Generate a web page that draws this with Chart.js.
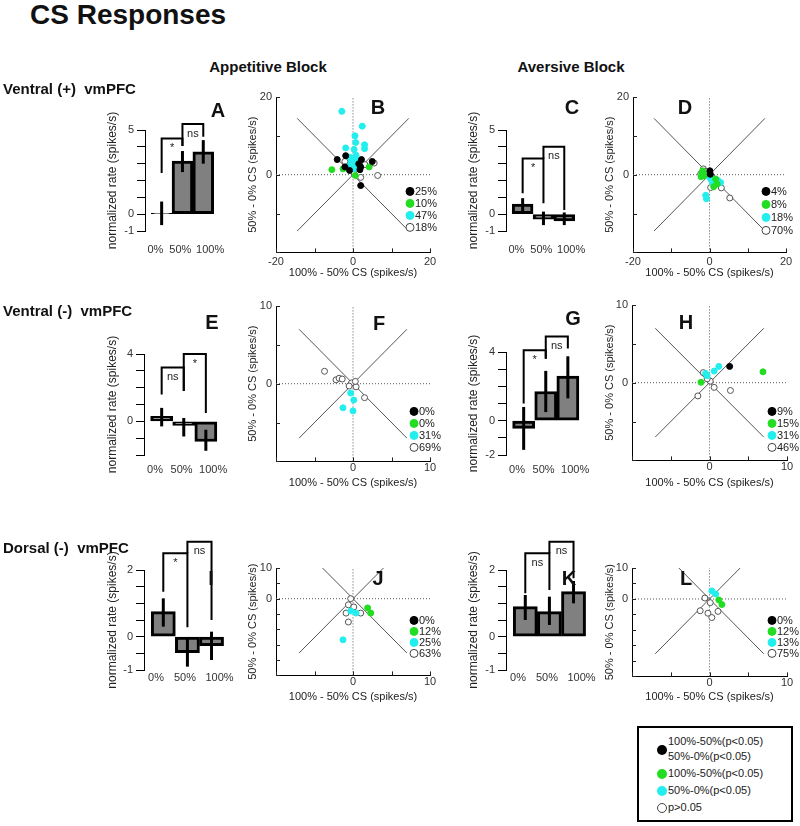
<!DOCTYPE html>
<html lang="en">
<head>
<meta charset="UTF-8">
<title>CS Responses</title>
<style>
  body { margin: 0; background: #fff; }
  #page { position: relative; width: 800px; height: 826px; overflow: hidden; font-family: Arial, "Liberation Sans", sans-serif; color: #111; }
  canvas { position: absolute; }
  .t { position: absolute; font-weight: bold; line-height: 1; white-space: pre; z-index: 2; }
  .c { transform: translateX(-50%); }
  .letter { font-size: 20px; }
  .key { position: absolute; left: 637px; top: 726px; width: 156px; height: 96px; box-sizing: border-box; border: 2px solid #000; }
  .kt { position: absolute; font-size: 11px; line-height: 1; white-space: pre; color: #222; }
  .dot { position: absolute; width: 10px; height: 10px; border-radius: 50%; box-sizing: border-box; }
</style>
</head>
<body>
<div id="page">
  <div class="t" style="left:30px;top:1px;font-size:28px">CS Responses</div>
  <div class="t c" style="left:268px;top:59px;font-size:15px">Appetitive Block</div>
  <div class="t c" style="left:571px;top:59px;font-size:15px">Aversive Block</div>
  <div class="t" style="left:3px;top:81px;font-size:15px">Ventral (+)  vmPFC</div>
  <div class="t" style="left:3px;top:303px;font-size:15px">Ventral (-)  vmPFC</div>
  <div class="t" style="left:3px;top:540px;font-size:15px">Dorsal (-)  vmPFC</div>

  <div class="t c letter" style="left:218px;top:100px">A</div>
  <div class="t c letter" style="left:378px;top:97px">B</div>
  <div class="t c letter" style="left:572px;top:97px">C</div>
  <div class="t c letter" style="left:685px;top:97px">D</div>
  <div class="t c letter" style="left:212px;top:312px">E</div>
  <div class="t c letter" style="left:379px;top:313px">F</div>
  <div class="t c letter" style="left:573px;top:308px">G</div>
  <div class="t c letter" style="left:686px;top:312px">H</div>
  <div class="t c letter" style="left:211px;top:568px">I</div>
  <div class="t c letter" style="left:378px;top:568px">J</div>
  <div class="t c letter" style="left:569px;top:568px">K</div>
  <div class="t c letter" style="left:686px;top:568px">L</div>

  <canvas id="cA"></canvas><canvas id="cB"></canvas><canvas id="cC"></canvas><canvas id="cD"></canvas>
  <canvas id="cE"></canvas><canvas id="cF"></canvas><canvas id="cG"></canvas><canvas id="cH"></canvas>
  <canvas id="cI"></canvas><canvas id="cJ"></canvas><canvas id="cK"></canvas><canvas id="cL"></canvas>

  <div class="key"></div>
  <div class="dot" style="left:657px;top:745px;background:#000"></div>
  <div class="kt" style="left:668px;top:736px">100%-50%(p&lt;0.05)</div>
  <div class="kt" style="left:668px;top:751px">50%-0%(p&lt;0.05)</div>
  <div class="dot" style="left:657px;top:769px;background:#22dd22"></div>
  <div class="kt" style="left:668px;top:768px">100%-50%(p&lt;0.05)</div>
  <div class="dot" style="left:657px;top:786px;background:#22eeee"></div>
  <div class="kt" style="left:668px;top:785px">50%-0%(p&lt;0.05)</div>
  <div class="dot" style="left:657px;top:803px;background:#fff;border:1px solid #444"></div>
  <div class="kt" style="left:668px;top:802px">p&gt;0.05</div>
</div>

<script src="https://cdn.jsdelivr.net/npm/chart.js"></script>
<script>
// ---------- data ----------
const conditions = ['0%', '50%', '100%'];

// bar panels: mean, error bar [low, high], brackets [from, to, top, leg from, leg to, label]
const meanA = [0.05, 3.15, 3.7];
const errA = [[-0.65, 0.75], [2.5, 3.75], [3.0, 4.4]];
const sigA = [[0, 1, 4.5, 2.45, 4.05, '*'], [1, 2, 5.35, 4.05, 4.6, 'ns']];

const meanC = [0.6, -0.3, -0.4];
const errC = [[0.05, 0.95], [-0.65, 0.15], [-0.65, 0.1]];
const sigC = [[0, 1, 3.3, 1.25, 0.65, '*'], [1, 2, 4.0, 3.3, 0.25, 'ns']];

const meanE = [0.3, -0.25, -1.2];
const errE = [[-0.3, 0.8], [-0.9, 0.2], [-1.75, -0.5]];
const sigE = [[0, 1, 3.2, 1.6, 1.8, 'ns'], [1, 2, 4.0, 1.8, 0.5, '*']];

const meanG = [-0.45, 1.7, 2.6];
const errG = [[-1.7, 0.8], [0.5, 2.9], [1.3, 3.75]];
const sigG = [[0, 1, 4.1, 1.0, 3.6, '*'], [1, 2, 4.9, 3.6, 4.2, 'ns']];

const meanI = [0.75, -0.48, -0.27];
const errI = [[0.3, 1.15], [-0.9, -0.05], [-0.7, 0.15]];
const sigI = [[0, 1, 2.5, 1.35, 0.28, '*'], [1, 2, 2.85, 2.5, 0.5, 'ns']];

const meanK = [0.9, 0.75, 1.35];
const errK = [[0.5, 1.25], [0.35, 1.2], [1.0, 1.67]];
const sigK = [[0, 1, 2.5, 1.3, 1.4, 'ns'], [1, 2, 2.85, 2.5, 1.75, 'ns']];

// bar y ticks / labels
const yTicks5 = [-1, 0, 1, 2, 3, 4, 5], yLab5 = [5, 0, -1];
const yTicks4 = [-2, -1, 0, 1, 2, 3, 4], yLabE = [4, 0], yLabG = [4, 0, -2];
const yTicks2 = [-1, -0.5, 0, 0.5, 1, 1.5, 2], yLab2 = [2, 0, -1];

// scatter ticks / labels
const sTicks20 = [-20, -10, 0, 10, 20], sXLab20 = [-20, 0, 20], sYLab20 = [20, 0];
const sTicks10 = [-10, -5, 0, 5, 10], sXLab10 = [0, 10], sYLab10 = [10, 0];
const sYTicks3 = [-25, -20, -15, -10, -5, 0, 5, 10];

// scatter points [x, y]: black, green, cyan, open
const blackB = [[-4.1, 3.9], [-1.9, 4.9], [2.2, 3.9], [5.0, 3.4], [-0.9, 1.1], [-2.1, 2.0], [2.0, 2.0], [1.8, 1.3], [2.0, -2.8], [1.5, 2.8]];
const greenB = [[-5.5, 1.3], [-2.6, 1.5], [4.2, 2.0], [0.6, -0.2]];
const cyanB = [[-2.9, 16.3], [2.4, 12.5], [0.5, 10], [0.7, 8.3], [3.0, 7.7], [3.0, 6.7], [-1.9, 6.9], [0.3, 6.5], [-0.3, 3.4], [-0.5, 3.5], [0.5, 4.0], [0, 2.5], [1.0, 2.0], [-1.0, 2.2], [0.3, 1.5], [1.5, 3.0], [-0.8, 4.5], [0.8, 5.0], [0.2, 3.0]];
const openB = [[-1.7, 3.6], [5.5, 3.0], [3.1, 2.6], [2.0, -0.7], [6.4, -0.2], [-2.1, 3.4], [0.3, 0.2]];
const pctB = ['25%', '10%', '47%', '18%'];

const blackD = [[0.1, 1.0], [0.2, 0.1]];
const greenD = [[-2.0, 0.5], [-1.5, -0.3], [-1.0, 0.2], [-2.2, -0.5], [1.6, -1.1], [2.0, -2.4], [1.1, -3.1], [-1.8, 1.0]];
const cyanD = [[-1.0, -5.3], [-0.8, -6.2], [0.3, -1.1], [2.9, -2.0], [-0.1, -0.5], [0.3, -0.7], [1.0, -1.5], [0.8, -2.2], [2.2, -1.5]];
const openD = [[-1.6, 1.5], [0.3, -3.3], [3.1, -3.4], [5.3, -6.0], [-0.5, 0.5], [0.5, -0.4], [-1.2, 0.9], [0.8, -0.8], [1.3, -1.4], [-0.3, -0.1], [0.1, 0.6], [-2.3, 0.2], [1.8, -1.9]];
const pctD = ['4%', '8%', '18%', '70%'];

const blackF = [], greenF = [];
const cyanF = [[-1.3, -3.1], [-0.3, -1.2], [0.1, -2.1], [0, -3.5]];
const openF = [[-3.7, 1.6], [-2.2, 0.5], [-1.8, 0.7], [-1.4, 0.6], [0.4, -0.4], [1.5, -1.8], [-0.2, 0.1], [0.3, 0.3], [-0.5, -0.3]];
const pctF = ['0%', '0%', '31%', '69%'];

const blackH = [[2.6, 2.1]];
const greenH = [[6.9, 1.4], [-1.1, 0.05]];
const cyanH = [[-0.3, 0.9], [0.6, 1.5], [1.2, 2.1], [-0.5, 1.2]];
const openH = [[-0.8, 1.3], [0.6, -0.6], [2.7, -1.0], [-1.5, -1.7], [0.1, 0.2], [-0.3, 0.5]];
const pctH = ['9%', '15%', '31%', '46%'];

const blackJ = [];
const greenJ = [[1.9, -3.0], [2.3, -4.7]];
const cyanJ = [[-0.3, -4.0], [0.4, -4.7], [-1.3, -13.4]];
const openJ = [[-0.3, 0], [-0.6, -2.0], [0.1, -2.7], [-0.9, -4.7], [1.0, -4.7], [-0.6, -7.6]];
const pctJ = ['0%', '12%', '25%', '63%'];

const blackL = [];
const greenL = [[1.6, -1.8], [1.2, -0.3]];
const cyanL = [[0.3, 2.6], [0.8, 1.6]];
const openL = [[-0.2, -4.6], [0.3, -6.0], [1.1, -4.0], [0.1, -1.2], [-0.6, 0.3], [-1.2, -3.8]];
const pctL = ['0%', '12%', '13%', '75%'];

// reference lines: diagonal, anti-diagonal
const diag20 = [[-14.5, -14.5], [14.5, 14.5]], anti20 = [[-14.5, 14.5], [14.5, -14.5]];
const diag10 = [[-7, -7], [7, 7]], anti10 = [[-7, 7], [7, -7]];
const diag3 = [[-7, -17.7], [7, 17.7]], anti3 = [[-7, 17.7], [7, -17.7]];

// ---------- drawing ----------
const FONT = 'Arial, "Liberation Sans", sans-serif';
Chart.defaults.font.family = FONT;
Chart.defaults.color = '#333';

const keyColors = [['#000', '#000'], ['#22dd22', '#22dd22'], ['#22eeee', '#22eeee'], ['#fff', '#444']];
// small sideways nudge of the bar category labels (in bar widths)
const labelNudge = [-0.3, -0.1, 0.33];

const decor = {
  id: 'decor',
  afterDatasetsDraw(chart, args, o) {
    const ctx = chart.ctx, xs = chart.scales.x, ys = chart.scales.y, area = chart.chartArea;
    ctx.save();
    ctx.strokeStyle = '#000';
    if (o.errors) {
      ctx.lineWidth = 3;
      o.errors.forEach(([lo, hi], i) => {
        const px = xs.getPixelForValue(i);
        ctx.beginPath();
        ctx.moveTo(px, ys.getPixelForValue(lo));
        ctx.lineTo(px, ys.getPixelForValue(hi));
        ctx.stroke();
      });
    }
    if (o.brackets) {
      ctx.lineWidth = 2;
      ctx.font = '11px ' + FONT;
      ctx.fillStyle = '#222';
      ctx.textAlign = 'center';
      ctx.textBaseline = 'top';
      o.brackets.forEach(([a, b, top, la, lb, txt]) => {
        const xa = xs.getPixelForValue(a), xb = xs.getPixelForValue(b), yt = ys.getPixelForValue(top);
        ctx.beginPath();
        ctx.moveTo(xa, ys.getPixelForValue(la));
        ctx.lineTo(xa, yt);
        ctx.lineTo(xb, yt);
        ctx.lineTo(xb, ys.getPixelForValue(lb));
        ctx.stroke();
        ctx.fillText(txt, (xa + xb) / 2, yt + 4);
      });
    }
    if (o.inTicks) {
      ctx.lineWidth = 1;
      ctx.strokeStyle = '#222';
      xs.ticks.forEach(t => {
        const px = Math.round(xs.getPixelForValue(t.value)) + 0.5;
        ctx.beginPath(); ctx.moveTo(px, area.bottom); ctx.lineTo(px, area.bottom - 4); ctx.stroke();
      });
      ys.ticks.forEach(t => {
        const py = Math.round(ys.getPixelForValue(t.value)) + 0.5;
        ctx.beginPath(); ctx.moveTo(area.left, py); ctx.lineTo(area.left + 4, py); ctx.stroke();
      });
    }
    if (o.key) {
      const k = o.key;
      ctx.font = '11px ' + FONT;
      ctx.textAlign = 'left';
      ctx.textBaseline = 'middle';
      k.labels.forEach((lab, i) => {
        const cy = area.bottom - k.bottom - (k.labels.length - 1 - i) * k.gap;
        const cx = area.right - k.right;
        ctx.beginPath();
        ctx.arc(cx, cy, 4, 0, Math.PI * 2);
        ctx.fillStyle = keyColors[i][0];
        ctx.fill();
        ctx.lineWidth = 1;
        ctx.strokeStyle = keyColors[i][1];
        ctx.stroke();
        ctx.fillStyle = '#222';
        ctx.fillText(lab, cx + 5, cy + 1);
      });
    }
    ctx.restore();
  }
};

function barChart(id, g, mean, err, sig, yTicks, yLabels) {
  const cv = document.getElementById(id);
  const left = Math.round(g.titleX - 7.2);
  const padTop = 50, padRight = 10, xH = 28;
  const xMin = -0.8, xMax = 2.6;
  const width = Math.round(g.l - left + (xMax - xMin) * 24 + padRight);
  cv.style.left = left + 'px';
  cv.style.top = (g.t - padTop) + 'px';
  cv.width = width;
  cv.height = padTop + (g.b - g.t) + xH + 2;
  new Chart(cv, {
    type: 'bar',
    data: {
      datasets: [{
        data: mean.map((v, i) => ({ x: i, y: v })),
        backgroundColor: '#808080',
        borderColor: '#000',
        borderWidth: 3,
        borderSkipped: false,
        categoryPercentage: 1,
        barPercentage: 1
      }]
    },
    options: {
      responsive: false, animation: false, events: [],
      layout: { padding: { left: 0, top: padTop, right: padRight, bottom: 2 } },
      plugins: { legend: { display: false }, tooltip: { enabled: false }, decor: { errors: err, brackets: sig } },
      scales: {
        x: {
          type: 'linear', min: xMin, max: xMax, offset: false,
          afterBuildTicks: s => { s.ticks = conditions.map((c, i) => ({ value: i + labelNudge[i], label: c })); },
          ticks: { callback: (v, i) => conditions[i], padding: g.xPad, font: { size: 11 }, color: '#333', autoSkip: false, maxRotation: 0 },
          grid: { display: false, drawTicks: false },
          border: { display: false },
          afterFit: s => { s.height = xH; }
        },
        y: {
          min: yTicks[0], max: yTicks[yTicks.length - 1],
          afterBuildTicks: s => { s.ticks = yTicks.map(v => ({ value: v })); },
          ticks: { callback: v => yLabels.includes(v) ? String(v) : '', padding: 3, font: { size: 11 }, color: '#333', autoSkip: false },
          grid: { display: true, drawOnChartArea: false, drawTicks: true, tickLength: 8, color: '#000' },
          border: { display: true, color: '#000', width: 1 },
          title: { display: true, text: 'normalized rate (spikes/s)', font: { size: 12 }, color: '#222', padding: 0 },
          afterFit: s => { s.width = g.l - left; }
        }
      }
    },
    plugins: [decor]
  });
}

function pts(arr) { return arr.map(([x, y]) => ({ x, y })); }

function scatterChart(id, g, sets, refs, xTicks, xLabels, yTicks, yLabels, pct) {
  const cv = document.getElementById(id);
  const left = Math.round(g.titleX - 6.6);
  const padTop = 12, padRight = 22;
  const bottom = Math.round(g.titleY + 6.6 + 1);
  cv.style.left = left + 'px';
  cv.style.top = (g.t - padTop) + 'px';
  cv.width = g.r - left + padRight;
  cv.height = bottom - (g.t - padTop);
  const xMin = xTicks[0], xMax = xTicks[xTicks.length - 1];
  const yMin = yTicks[0], yMax = yTicks[yTicks.length - 1];
  const styles = [['#000', '#000'], ['#22dd22', '#22dd22'], ['#22eeee', '#22eeee'], ['#fff', '#555']];
  const datasets = sets.map((s, i) => ({
    type: 'scatter', data: pts(s), pointRadius: 3, borderWidth: 1,
    backgroundColor: styles[i][0], borderColor: styles[i][1]
  }));
  const line = (d, dash) => ({
    type: 'line', data: pts(d), borderColor: '#555', borderWidth: 1, borderDash: dash,
    pointRadius: 0, fill: false, showLine: true, tension: 0
  });
  datasets.push(line(refs[0], []), line(refs[1], []),
    line([[xMin, 0], [xMax, 0]], [1, 2]), line([[0, yMin], [0, yMax]], [1, 2]));
  new Chart(cv, {
    type: 'scatter',
    data: { datasets },
    options: {
      responsive: false, animation: false, events: [],
      layout: { padding: { left: 0, top: padTop, right: padRight, bottom: 1 } },
      plugins: { legend: { display: false }, tooltip: { enabled: false },
        decor: { inTicks: true, key: { labels: pct, right: g.kr, bottom: g.kb, gap: g.kg } } },
      scales: {
        x: {
          type: 'linear', min: xMin, max: xMax,
          afterBuildTicks: s => { s.ticks = xTicks.map(v => ({ value: v })); },
          ticks: { callback: v => xLabels.includes(v) ? String(v) : '', padding: g.xPad, font: { size: 11 }, color: '#333', autoSkip: false, maxRotation: 0 },
          grid: { display: false, drawTicks: false },
          border: { display: true, color: '#000', width: 1 },
          title: { display: true, text: '100% - 50% CS (spikes/s)', font: { size: 11 }, color: '#222', padding: 0 },
          afterFit: s => { s.height = g.titleY + 6.6 - g.b; }
        },
        y: {
          type: 'linear', min: yMin, max: yMax,
          afterBuildTicks: s => { s.ticks = yTicks.map(v => ({ value: v })); },
          ticks: { callback: v => yLabels.includes(v) ? String(v) : '', padding: 4, font: { size: 11 }, color: '#333', autoSkip: false },
          grid: { display: false, drawTicks: false },
          border: { display: true, color: '#000', width: 1 },
          title: { display: true, text: '50% - 0% CS (spikes/s)', font: { size: 11 }, color: '#222', padding: 0 },
          afterFit: s => { s.width = g.l - left; }
        }
      }
    },
    plugins: [decor]
  });
}

// bar panels: plot rectangle (axis x, top, bottom), y title centre x, x label padding
barChart('cA', { l: 145, t: 130, b: 231, titleX: 112, xPad: 12 }, meanA, errA, sigA, yTicks5, yLab5);
barChart('cC', { l: 506, t: 130, b: 231, titleX: 473, xPad: 12 }, meanC, errC, sigC, yTicks5, yLab5);
barChart('cE', { l: 144, t: 354, b: 455, titleX: 112, xPad: 8 }, meanE, errE, sigE, yTicks4, yLabE);
barChart('cG', { l: 506, t: 352, b: 455, titleX: 473, xPad: 8 }, meanG, errG, sigG, yTicks4, yLabG);
barChart('cI', { l: 144, t: 570, b: 670, titleX: 112, xPad: 1 }, meanI, errI, sigI, yTicks2, yLab2);
barChart('cK', { l: 506, t: 570, b: 670, titleX: 473, xPad: 1 }, meanK, errK, sigK, yTicks2, yLab2);

// scatter panels
scatterChart('cB', { l: 276, r: 430, t: 97, b: 252, titleX: 253, titleY: 273, xPad: 3, kr: 20, kb: 25, kg: 12 },
  [blackB, greenB, cyanB, openB], [diag20, anti20], sTicks20, sXLab20, sTicks20, sYLab20, pctB);
scatterChart('cD', { l: 633, r: 786, t: 97, b: 252, titleX: 610, titleY: 273, xPad: 3, kr: 20, kb: 22, kg: 13 },
  [blackD, greenD, cyanD, openD], [diag20, anti20], sTicks20, sXLab20, sTicks20, sYLab20, pctD);
scatterChart('cF', { l: 276, r: 430, t: 306, b: 461, titleX: 253, titleY: 483, xPad: 0, kr: 16, kb: 14, kg: 12 },
  [blackF, greenF, cyanF, openF], [diag10, anti10], sTicks10, sXLab10, sTicks10, sYLab10, pctF);
scatterChart('cH', { l: 632, r: 787, t: 305, b: 460, titleX: 610, titleY: 483, xPad: 0, kr: 15, kb: 13, kg: 12 },
  [blackH, greenH, cyanH, openH], [diag10, anti10], sTicks10, sXLab10, sTicks10, sYLab10, pctH);
scatterChart('cJ', { l: 276, r: 430, t: 568, b: 675, titleX: 253, titleY: 697, xPad: 0, kr: 16, kb: 22, kg: 11 },
  [blackJ, greenJ, cyanJ, openJ], [diag3, anti3], sTicks10, sXLab10, sYTicks3, sYLab10, pctJ);
scatterChart('cL', { l: 632, r: 787, t: 568, b: 676, titleX: 610, titleY: 697, xPad: 0, kr: 15, kb: 23, kg: 11 },
  [blackL, greenL, cyanL, openL], [diag3, anti3], sTicks10, sXLab10, sYTicks3, sYLab10, pctL);
</script>
</body>
</html>
